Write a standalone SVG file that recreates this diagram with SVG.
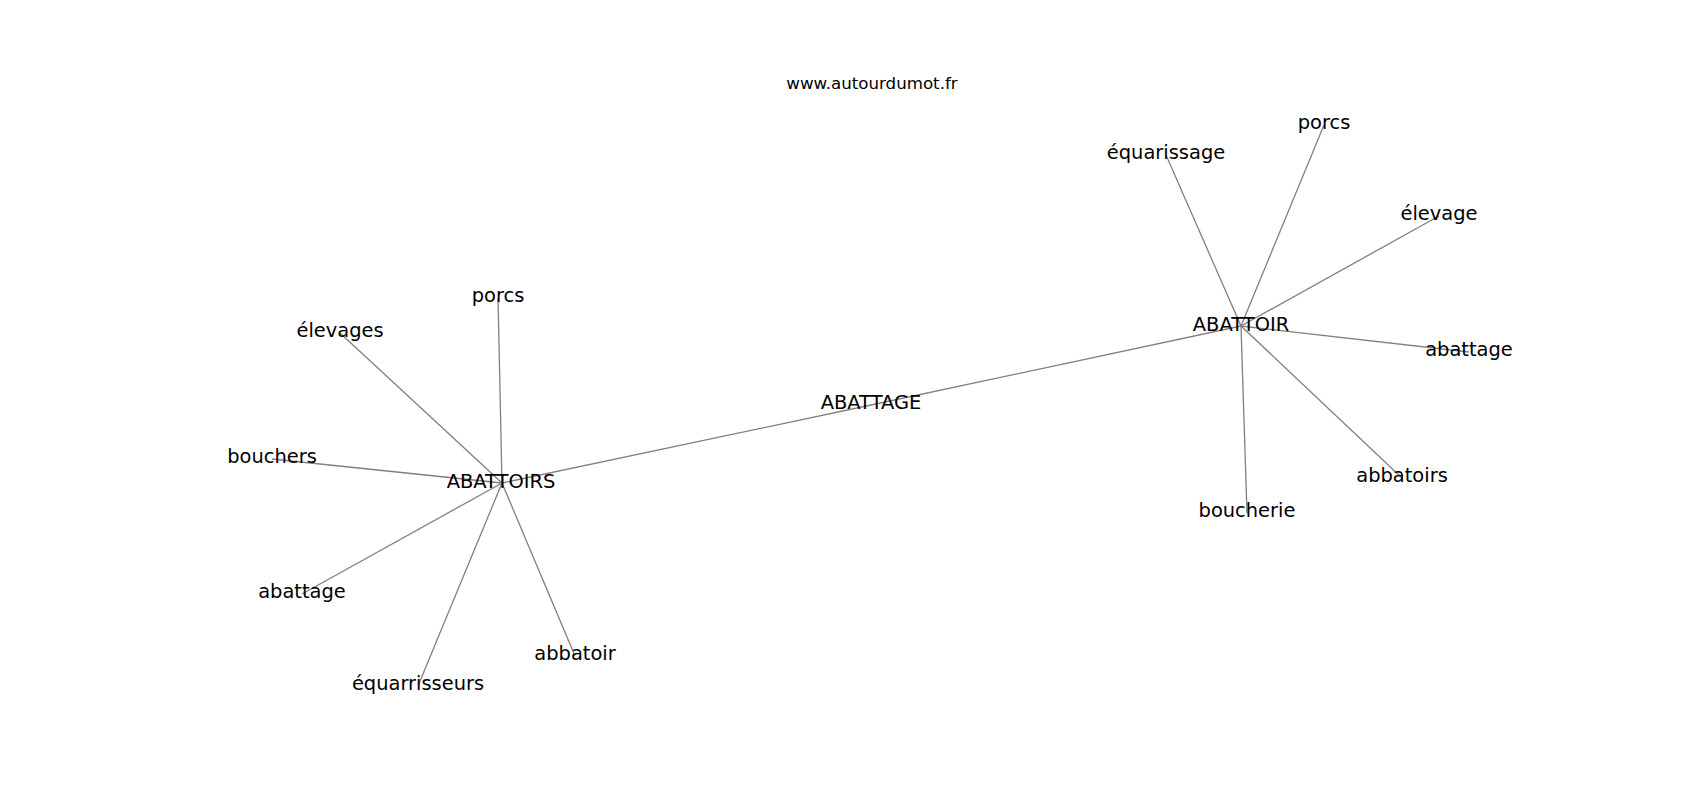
<svg xmlns="http://www.w3.org/2000/svg" width="1700" height="800" viewBox="0 0 1700 800">
<style>
.e{stroke:#808080;stroke-width:1.3;fill:none}
.l{font-family:"DejaVu Sans",sans-serif;font-size:19.44px;fill:#000;text-anchor:middle}
.t{font-family:"DejaVu Sans",sans-serif;font-size:16.67px;fill:#000;text-anchor:middle}
</style>
<rect width="1700" height="800" fill="#fff"/>
<text class="t" x="872" y="89">www.autourdumot.fr</text>
<g id="edges">
<line class="e" x1="502" y1="483" x2="871" y2="405"/>
<line class="e" x1="871" y1="405" x2="1241" y2="326"/>
<line class="e" x1="502" y1="483" x2="498" y2="298"/>
<line class="e" x1="502" y1="483" x2="340" y2="333"/>
<line class="e" x1="502" y1="483" x2="272" y2="459"/>
<line class="e" x1="502" y1="483" x2="302" y2="594"/>
<line class="e" x1="502" y1="483" x2="418" y2="686"/>
<line class="e" x1="502" y1="483" x2="575" y2="656"/>
<line class="e" x1="1241" y1="326" x2="1166" y2="155"/>
<line class="e" x1="1241" y1="326" x2="1324" y2="125"/>
<line class="e" x1="1241" y1="326" x2="1439" y2="216"/>
<line class="e" x1="1241" y1="326" x2="1469" y2="352"/>
<line class="e" x1="1241" y1="326" x2="1402" y2="478"/>
<line class="e" x1="1241" y1="326" x2="1247" y2="513"/>
</g>
<g id="n-ABATTOIRS"><text class="l" x="501" y="487.5">ABATTOIRS</text></g>
<g id="n-ABATTAGE"><text class="l" x="871" y="409">ABATTAGE</text></g>
<g id="n-ABATTOIR"><text class="l" x="1241" y="331">ABATTOIR</text></g>
<g id="n-porcs1"><text class="l" x="498" y="302">porcs</text></g>
<g id="n-elevages"><text class="l" x="340" y="337">élevages</text></g>
<g id="n-bouchers"><text class="l" x="272" y="463">bouchers</text></g>
<g id="n-abattage1"><text class="l" x="302" y="598">abattage</text></g>
<g id="n-equarrisseurs"><text class="l" x="418" y="690">équarrisseurs</text></g>
<g id="n-abbatoir"><text class="l" x="575" y="660">abbatoir</text></g>
<g id="n-equarissage"><text class="l" x="1166" y="159">équarissage</text></g>
<g id="n-porcs2"><text class="l" x="1324" y="129">porcs</text></g>
<g id="n-elevage"><text class="l" x="1439" y="220">élevage</text></g>
<g id="n-abattage2"><text class="l" x="1469" y="356">abattage</text></g>
<g id="n-abbatoirs"><text class="l" x="1402" y="482">abbatoirs</text></g>
<g id="n-boucherie"><text class="l" x="1247" y="517">boucherie</text></g>
</svg>
